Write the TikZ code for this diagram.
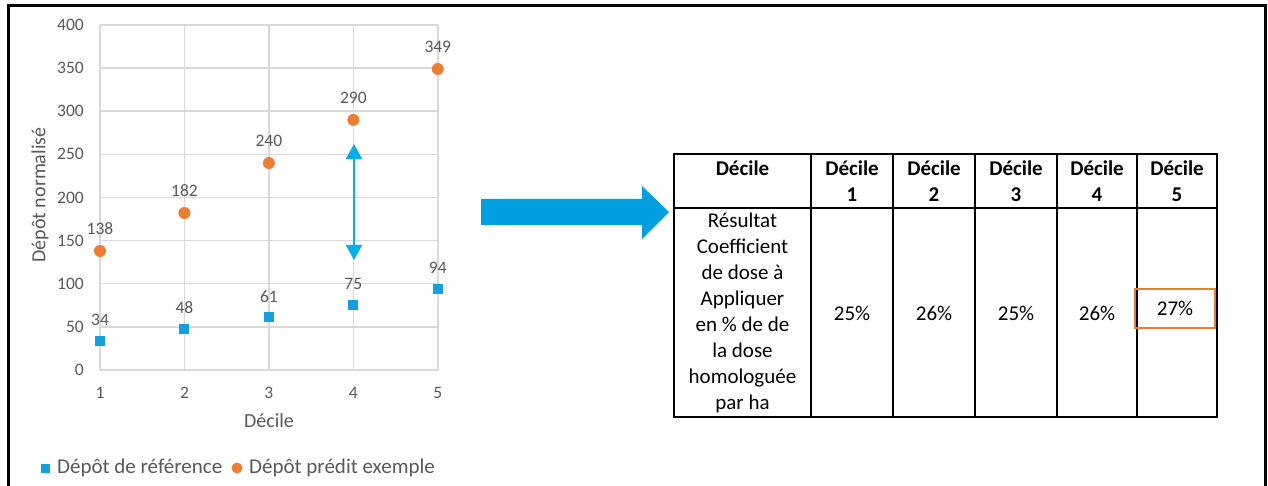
\documentclass[tikz,border=0pt]{standalone}
\usepackage{fontspec}
\setmainfont{Carlito}
\usetikzlibrary{arrows.meta}
\definecolor{ptorange}{HTML}{ED7D31}
\definecolor{ptblue}{HTML}{12A0E0}
\definecolor{arrcyan}{HTML}{00B0F0}
\definecolor{bigblue}{HTML}{009FDF}
\definecolor{gridgray}{HTML}{D9D9D9}
\definecolor{axtext}{HTML}{595959}
\tikzset{
  gridl/.style={draw=gridgray, line width=1.5pt},
  ticklbl/.style={text=axtext, font=\fontsize{17.5}{20}\selectfont, inner sep=0pt},
  axtitle/.style={text=axtext, font=\fontsize{20}{24}\selectfont, inner sep=0pt},
  lgtext/.style={text=axtext, font=\fontsize{21}{24}\selectfont, inner sep=0pt},
  dotO/.style={circle, fill=ptorange, minimum size=12pt, inner sep=0pt},
  sqB/.style={rectangle, fill=ptblue, minimum size=10pt, inner sep=0pt},
  tbl/.style={draw=black, line width=2pt},
  dblarrow/.style={draw=arrcyan, fill=arrcyan, line width=1.8pt, {Triangle[width=16pt,length=15pt]}-{Triangle[width=16pt,length=15pt]}},
  hd/.style={font=\fontsize{21}{26}\selectfont\bfseries, align=center, inner sep=0pt},
  bd/.style={font=\fontsize{21}{26}\selectfont, align=center, inner sep=0pt},
}
\begin{document}
\begin{tikzpicture}[x=1pt,y=-1pt]
\useasboundingbox (0,0) rectangle (1268,486);
% outer frame
\draw[line width=3pt] (8,486) -- (8,5.5) -- (1265,5.5) -- (1265,486);

% grid
\foreach \v in {0,50,...,400}
  \draw[gridl] (100,{370-\v*0.8625}) -- (438,{370-\v*0.8625});
\foreach \i in {1,...,5}
  \draw[gridl] ({100+(\i-1)*84.45},25) -- ({100+(\i-1)*84.45},370);

% tick labels
\foreach \v in {0,50,...,400}
  \node[ticklbl, anchor=east] (yt\v) at (84,{370-\v*0.8625}) {\v};
\foreach \i in {1,...,5}
  \node[ticklbl] (xt\i) at ({100+(\i-1)*84.45},393) {\i};

% axis titles
\node[axtitle] (xtitle) at (269,421) {Décile};
\node[axtitle, rotate=90] (ytitle) at (40,195) {Dépôt normalisé};

% data
\foreach \i/\v in {1/138,2/182,3/240,4/290,5/349} {
  \node[dotO] (o\i) at ({100+(\i-1)*84.45},{370-\v*0.8625}) {};
  \node[ticklbl] (ol\i) at ({100+(\i-1)*84.45},{370-\v*0.8625-22}) {\v};
}
\foreach \i/\v in {1/34,2/48,3/61,4/75,5/94} {
  \node[sqB] (b\i) at ({100+(\i-1)*84.45},{370-\v*0.8625}) {};
  \node[ticklbl] (bl\i) at ({100+(\i-1)*84.45},{370-\v*0.8625-21}) {\v};
}

% double arrow
\coordinate (da1) at (354,144);
\coordinate (da2) at (354,260);
\draw[dblarrow] (da1) -- (da2);

% legend
\node[sqB, minimum size=9pt] (lgB) at (45.5,468) {};
\node[lgtext, anchor=west] (lgBt) at (57,468) {Dépôt de référence};
\node[dotO, minimum size=11pt] (lgO) at (237,468) {};
\node[lgtext, anchor=west] (lgOt) at (249,468) {Dépôt prédit exemple};

% big arrow
\fill[bigblue] (481,199) -- (642,199) -- (642,186) -- (669,212) -- (642,239) -- (642,225) -- (481,225) -- cycle;

% table
\draw[tbl] (674,154) rectangle (1217,417);
\draw[tbl] (674,208) -- (1217,208);
\foreach \x in {811,893,975,1057,1137}
  \draw[tbl] (\x,154) -- (\x,417);

\node[hd] (h0) at (742.5,168) {Décile};
\foreach \c/\n in {852/1,934/2,1016/3,1097/4,1177/5}
  \node[hd] (h\n) at (\c,181.5) {Décile\\\n};

\node[bd] (r0) at (742.5,313) {Résultat\\Coefficient\\de dose à\\Appliquer\\en \% de de\\la dose\\homologuée\\par ha};
\node[bd] (v1) at (852,313) {25\%};
\node[bd] (v2) at (934,313) {26\%};
\node[bd] (v3) at (1016,313) {25\%};
\node[bd] (v4) at (1097,313) {26\%};
\node[bd, draw=ptorange, line width=2pt, minimum width=80pt, minimum height=39pt] (v5) at (1175,308) {27\%};
\end{tikzpicture}
\end{document}
